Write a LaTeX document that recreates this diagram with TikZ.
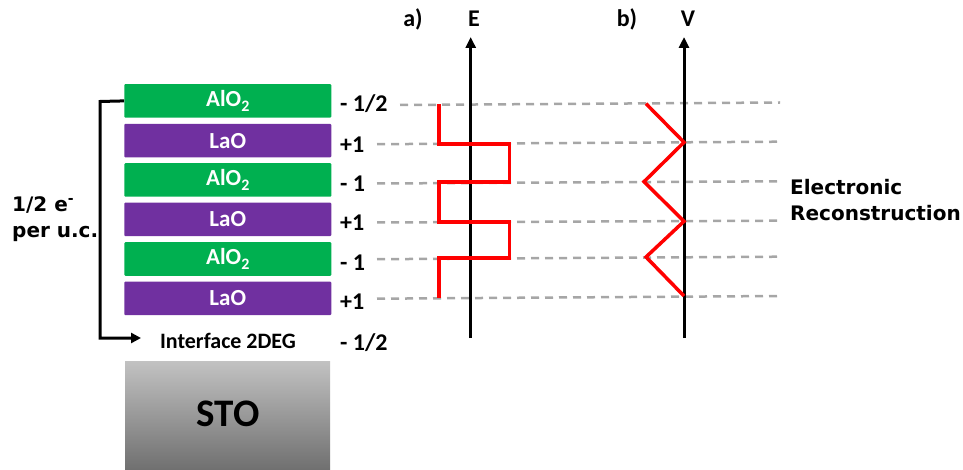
\documentclass[tikz,border=0pt]{standalone}
\usepackage{fontspec}
\setmainfont{Carlito}
\newfontfamily\dejavu{DejaVu Sans}
\usetikzlibrary{arrows.meta}
\definecolor{layergreen}{HTML}{00B050}
\definecolor{layerpurple}{HTML}{7030A0}
\definecolor{guidegray}{HTML}{A6A6A6}
\definecolor{stotop}{HTML}{C2C2C2}
\definecolor{stobottom}{HTML}{6E6E6E}
% lowered index digit for the oxide formula
\newcommand{\oxsub}[1]{\raisebox{-4.5pt}{\fontsize{16}{16}\selectfont #1}}
\begin{document}
\begin{tikzpicture}[x=1pt,y=-1pt,
  layerbox/.style={minimum width=207pt,minimum height=33.5pt,inner sep=0pt,
    rounded corners=1pt,text=white,font=\bfseries\fontsize{23}{25}\selectfont},
  alo/.style={layerbox,fill=layergreen},
  lao/.style={layerbox,fill=layerpurple},
  charge/.style={anchor=west,inner sep=0pt,font=\bfseries\fontsize{24}{26}\selectfont},
  sanslabel/.style={inner sep=0pt,align=left,font=\dejavu\bfseries\fontsize{20}{26}\selectfont},
  headlabel/.style={inner sep=0pt,font=\bfseries\fontsize{24}{26}\selectfont},
  guide/.style={guidegray,line width=2.5pt,dash pattern=on 8pt off 6pt},
  axis/.style={line width=3pt,-{Triangle[length=11pt,width=10pt]}},
  profile/.style={red,line width=3.5pt,line join=miter},
  bracket/.style={line width=3pt,-{Triangle[length=10pt,width=10pt]}}
]
\useasboundingbox (0,0) rectangle (963,470);

% LaAlO3 layer stack
\node[alo] (l1) at (227.75,100.9) {AlO\oxsub{2}};
\node[lao] (l2) at (227.75,140.6) {LaO};
\node[alo] (l3) at (227.75,180.0) {AlO\oxsub{2}};
\node[lao] (l4) at (227.75,219.4) {LaO};
\node[alo] (l5) at (227.75,259.0) {AlO\oxsub{2}};
\node[lao] (l6) at (227.75,298.4) {LaO};
\node[inner sep=0pt,font=\bfseries\fontsize{22}{24}\selectfont] (iface) at (228,341) {Interface 2DEG};

% SrTiO3 substrate
\shade[top color=stotop,bottom color=stobottom] (125,361) rectangle (330,472);
\node[inner sep=0pt,font=\bfseries\fontsize{39}{41}\selectfont] (sto) at (228,414) {STO};

% layer charges
\node[charge] (q0) at (340,104) {- 1/2};
\node[charge] (q1) at (340,145) {+1};
\node[charge] (q2) at (340,184) {- 1};
\node[charge] (q3) at (340,223) {+1};
\node[charge] (q4) at (340,263) {- 1};
\node[charge] (q5) at (340,302) {+1};
\node[charge] (q6) at (340,343) {- 1/2};

% charge transfer bracket
\coordinate (bt) at (100,101.5);
\coordinate (bb) at (100,338);
\coordinate (bend) at (141,338);
\draw[bracket] (l1.west) -- (bt) -- (bb) -- (bend);
\node[sanslabel,anchor=west] (transfer) at (12,219) {1/2 e\textsuperscript{-}\\per u.c.};

% dashed guide lines
\coordinate (g1a) at (400,105.0); \coordinate (g1b) at (780,102.5);
\coordinate (g2a) at (377,144.2); \coordinate (g2b) at (780,141.7);
\coordinate (g3a) at (377,183.5); \coordinate (g3b) at (780,181.3);
\coordinate (g4a) at (377,222.5); \coordinate (g4b) at (780,220.7);
\coordinate (g5a) at (377,259.2); \coordinate (g5b) at (780,256.7);
\coordinate (g6a) at (377,298.7); \coordinate (g6b) at (780,296.0);
\foreach \i in {1,...,6} \draw[guide] (g\i a) -- (g\i b);

% axes
\coordinate (ebot) at (470.7,338); \coordinate (etop) at (470.7,37);
\coordinate (vbot) at (684,338);   \coordinate (vtop) at (684,37);
\draw[axis] (ebot) -- (etop);
\draw[axis] (vbot) -- (vtop);
\node[headlabel] (la) at (413,19) {a)};
\node[headlabel] (le) at (474,19) {E};
\node[headlabel] (lb) at (627,19) {b)};
\node[headlabel] (lv) at (688,19) {V};

% field profile
\draw[profile] (439,104.3) -- (439,144) -- (509.5,144) -- (509.5,182) -- (439,182)
  -- (439,222) -- (509.5,222) -- (509.5,258) -- (439,258) -- (439,297.7);

% potential profile
\draw[profile] (646,103.7) -- (684,142.3) -- (644,181.7) -- (684,221.3)
  -- (646,257) -- (684,296);

\node[sanslabel,anchor=west] (recon) at (790,200) {Electronic\\Reconstruction};
\end{tikzpicture}
\end{document}
